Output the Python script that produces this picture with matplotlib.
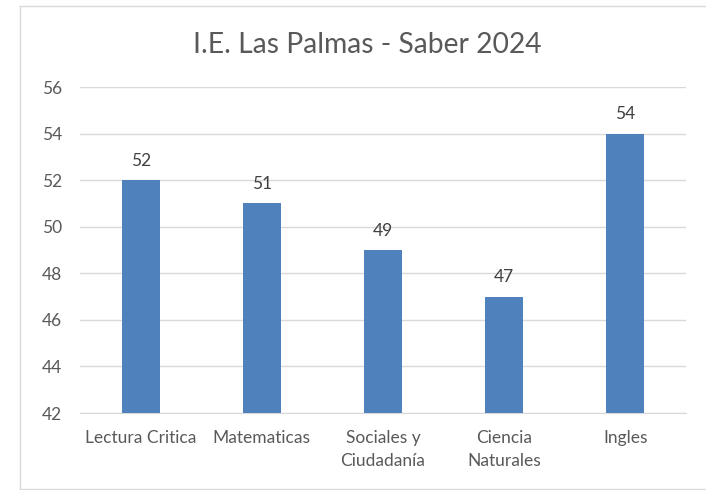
import matplotlib
matplotlib.use("Agg")
import matplotlib.pyplot as plt
from matplotlib.lines import Line2D

categories = ["Lectura Critica", "Matematicas", "Sociales y\nCiudadanía", "Ciencia\nNaturales", "Ingles"]
values = [52, 51, 49, 47, 54]
yticks = [42, 44, 46, 48, 50, 52, 54, 56]
title = "I.E. Las Palmas - Saber 2024"

plt.rcParams['font.family'] = ['Lato', 'DejaVu Sans']
W, H = 706, 490
fig = plt.figure(figsize=(W / 100, H / 100), dpi=100)
fig.patch.set_facecolor("white")

ax = fig.add_axes([80 / W, 1 - 413 / H, 606 / W, 326 / H])
x = list(range(len(categories)))
ax.bar(x, values, width=0.315, color="#4F81BD", zorder=3)
ax.set_ylim(42, 56)
ax.set_xlim(-0.5, len(categories) - 0.5)
ax.set_yticks(yticks)
ax.set_xticks(x)
ax.set_xticklabels(categories, fontsize=12.5, color="#595959", linespacing=1.6)
ax.tick_params(axis="y", labelsize=12.5, labelcolor="#595959", length=0, pad=13)
ax.tick_params(axis="x", length=0, pad=12)
ax.grid(axis="y", color="#D9D9D9", linewidth=1, zorder=0)
for s in ["top", "right", "left"]:
    ax.spines[s].set_visible(False)
ax.spines["bottom"].set_color("#D9D9D9")

for xi, v in zip(x, values):
    ax.annotate(str(v), (xi, v), xytext=(0, 8), textcoords="offset points",
                ha="center", va="bottom", fontsize=12.5, color="#404040")

fig.text(367 / W, 1 - 45 / H, title, ha="center", va="center",
         fontsize=20.3, color="#595959")

bc = "#D9D9D9"
fig.add_artist(Line2D([20 / W, 1], [1 - 6 / H, 1 - 6 / H], color=bc, lw=1))
fig.add_artist(Line2D([20 / W, 20 / W], [1 - 6 / H, 1 - 489 / H], color=bc, lw=1))
fig.add_artist(Line2D([20 / W, 1], [1 - 489 / H, 1 - 489 / H], color=bc, lw=1))

fig.savefig("out.png", dpi=100)
